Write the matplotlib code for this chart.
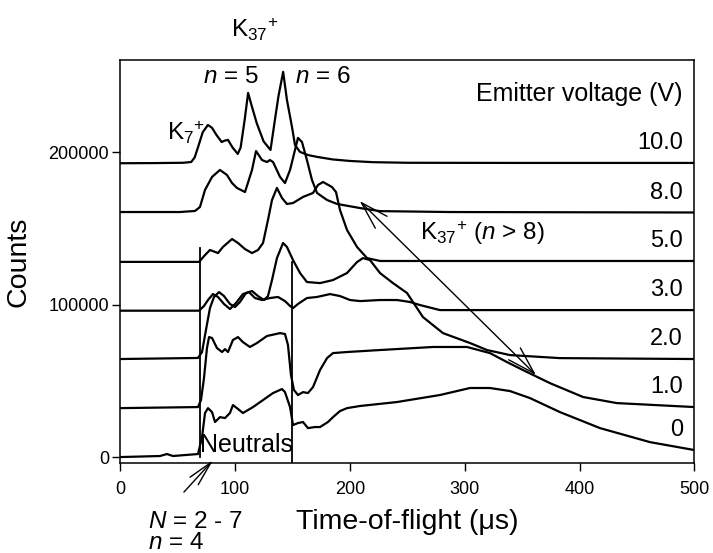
import numpy as np
import matplotlib
matplotlib.use('Agg')
import matplotlib.pyplot as plt
from matplotlib.patches import FancyArrowPatch

# fontes parecidas com Arial
plt.rcParams['font.family'] = ['Liberation Sans', 'DejaVu Sans']
plt.rcParams['mathtext.fontset'] = 'custom'
plt.rcParams['mathtext.rm'] = 'Liberation Sans'
plt.rcParams['mathtext.it'] = 'Liberation Sans:italic'

# ---------------- dados ----------------
voltages = ['0', '1.0', '2.0', '3.0', '5.0', '8.0', '10.0']
offsets = [0, 32000, 64000, 96000, 128000, 160000, 192000]

t_0 = [0, 34.8, 40.9, 46.1, 67.9, 71.4, 74, 76.6, 80.1, 82.7, 87, 91.4, 95.7, 98.3, 101.8, 107,
       115.8, 124.5, 133.2, 141, 143.6, 148, 150.6, 154.9, 159.3, 163.6, 169.7, 174.1, 181, 185.4,
       191.5, 197.6, 208.9, 241.1, 278.5, 304.6, 322, 339.4, 356.8, 382.9, 417.8, 461.3, 500]
c_0 = [0, 700, 2000, 700, 2000, 13100, 28900, 32100, 29500, 23000, 26200, 25600, 28900, 34100,
       32100, 28900, 32800, 37400, 42000, 44600, 42600, 32800, 21000, 22300, 23000, 19000, 19700,
       19700, 23000, 26200, 30200, 32100, 33500, 36100, 40700, 45300, 45300, 43300, 38700, 29500,
       19000, 9800, 4600]

t_1 = [0, 67.9, 70.5, 73.1, 75.7, 77.5, 80.1, 84.4, 88.8, 91.4, 94, 98.3, 102.7, 107, 113.1, 119.2,
       127.9, 139.3, 143.6, 146.2, 148.8, 151.4, 154.9, 159.3, 163.6, 168, 174.1, 180.2, 185.4,
       197.6, 226.3, 272.4, 302, 322, 336.8, 350.7, 374.2, 403, 432.5, 500]
c_1 = [100, 800, 5400, 19800, 39500, 46700, 46100, 39500, 36900, 38800, 36900, 44800, 46700, 43400,
       40200, 42800, 47400, 49300, 48700, 41500, 21800, 12000, 8700, 10600, 10000, 13900, 25100,
       32900, 36200, 36900, 38200, 40200, 40200, 36200, 30300, 25100, 16500, 7400, 3400, 800]

t_2 = [0, 67.9, 71.4, 74.8, 78.3, 81.8, 86.2, 90.5, 95.7, 100.1, 104.4, 109.7, 114.9, 120.1, 125.3,
       128.8, 132.3, 136.6, 141.9, 145.3, 150.6, 156.7, 162.7, 174.1, 185.4, 197.6, 206.3, 211.5,
       217.6, 226.3, 237.6, 249.8, 255, 263.7, 281.1, 304.6, 319.4, 339.4, 382.9, 500]
c_2 = [300, 1000, 4900, 19300, 33700, 41000, 44200, 41600, 36400, 34400, 37700, 43600, 44900, 41600,
       39000, 41600, 52100, 66500, 76400, 73800, 65200, 56700, 50800, 50100, 52100, 56700, 63900,
       66500, 65200, 56700, 50100, 43600, 37700, 27800, 17300, 10800, 6200, 2900, 900, 300]

t_3 = [0, 68.8, 73.1, 76.6, 80.9, 85.3, 90.5, 95.7, 100.9, 107, 112.3, 117.5, 123.6, 130.5, 137.5,
       143.6, 148, 150.6, 154.9, 162.7, 171.5, 182.8, 191.5, 200.2, 208.9, 226.3, 241.1, 252.4,
       261.1, 278.5, 500]
c_3 = [0, 0, 3100, 7000, 10900, 9000, 4400, 1100, 5000, 10900, 12200, 8300, 7000, 8300, 9000, 6300,
       3100, 1700, 4400, 8300, 9000, 10900, 9600, 7000, 6300, 7000, 7000, 5700, 3700, 400, 400]

t_5 = [0, 68.8, 74, 78.3, 85.3, 89.6, 97.5, 102.7, 108.8, 114.9, 120.1, 124.5, 128.8, 132.3, 136.6,
       141, 145.3, 150.6, 159.3, 168, 172.3, 176.7, 184.5, 188, 191.5, 197.6, 206.3, 215, 226.3, 500]
c_5 = [0, 0, 4500, 7800, 5800, 9800, 15000, 12400, 8400, 5800, 7800, 12400, 27500, 40600, 48500,
       41900, 38000, 38600, 42600, 45200, 50400, 52400, 49100, 45800, 34000, 20900, 9800, 2500,
       600, 600]

t_8 = [0, 52, 65.3, 69.6, 74, 80.1, 87, 93.1, 97.5, 101.8, 108.8, 114.9, 118.4, 123.6, 127.9, 130.5,
       133.2, 139.3, 143.6, 148, 152.3, 154.9, 158.4, 162.7, 167.1, 171.5, 180.2, 188.9, 208.9,
       226.3, 287, 500]
c_8 = [700, 700, 1400, 4000, 15200, 23700, 28300, 25000, 19700, 16500, 13800, 28300, 40700, 34800,
       33500, 34800, 33500, 23700, 19700, 28300, 41400, 49300, 46600, 34800, 21700, 13200, 8600,
       6000, 3300, 1300, 700, 400]

t_10 = [0, 30, 55, 62, 65, 68, 72, 76.5, 80, 84, 88.5, 91, 94, 98, 102.5, 105, 108.5, 111.5, 114,
        119, 125, 131, 135, 138, 142, 145.3, 149.7, 152.3, 156.7, 164, 172, 185, 200, 220, 250,
        350, 500]
c_10 = [700, 800, 1000, 1500, 4500, 11400, 21000, 25800, 24000, 19200, 14600, 15500, 16000, 11000,
        6800, 11000, 29100, 46800, 40000, 27000, 15000, 9400, 30000, 45000, 60600, 42200, 24500,
        12700, 8100, 6000, 4800, 3200, 2200, 1400, 1000, 900, 900]

times = [t_0, t_1, t_2, t_3, t_5, t_8, t_10]
counts = [c_0, c_1, c_2, c_3, c_5, c_8, c_10]

# janela de chegada dos neutros (linhas verticais)
neutral_t = [69.2, 150.1]
neutral_top = [137000, 128000]

# ---------------- figura ----------------
fig = plt.figure(figsize=(7.13, 5.53), dpi=100)
ax = fig.add_axes([0.1683, 0.1627, 0.8057, 0.7288])

for t, c, off, v in zip(times, counts, offsets, voltages):
    y = np.array(c) + off
    ax.plot(t, y, color='k', lw=1.6, solid_joinstyle='round')
    # rotulo de tensao acima do fim de cada curva
    ax.text(490, y[-1] + 9000, v, ha='right', va='baseline', fontsize=17)

ax.plot([neutral_t[0]] * 2, [0, neutral_top[0]], color='k', lw=1.3)
ax.plot([neutral_t[1]] * 2, [-4000, neutral_top[1]], color='k', lw=1.3)

ax.set_xlim(0, 500)
ax.set_ylim(-3900, 260400)
ax.set_xticks([0, 100, 200, 300, 400, 500])
ax.set_yticks([0, 100000, 200000])
ax.tick_params(axis='x', direction='out', length=6, width=1, pad=7, labelsize=13)
ax.tick_params(axis='y', direction='out', length=6, width=1, pad=2, labelsize=13)
for s in ax.spines.values():
    s.set_linewidth(1.1)

ax.set_xlabel('Time-of-flight (μs)', fontsize=20.5, labelpad=8)
ax.set_ylabel('Counts', fontsize=20.5, labelpad=12)

# anotacoes
ax.text(490, 233500, 'Emitter voltage (V)', ha='right', va='baseline', fontsize=18)
ax.text(117.5, 275500, r'K$_{37}$$^{+}$', ha='center', va='baseline', fontsize=17.5)
ax.text(72.2, 245300, r'$n$ = 5', ha='left', va='baseline', fontsize=17.5)
ax.text(152.3, 245300, r'$n$ = 6', ha='left', va='baseline', fontsize=17.5)
ax.text(40.9, 208000, r'K$_{7}$$^{+}$', ha='left', va='baseline', fontsize=17.5)
ax.text(261, 142400, r'K$_{37}$$^{+}$ ($n$ > 8)', ha='left', va='baseline', fontsize=17.5)
ax.text(69.6, 3300, 'Neutrals', ha='left', va='baseline', fontsize=18)
ax.text(24.4, -46300, r'$N$ = 2 - 7', ha='left', va='baseline', fontsize=17.5)
ax.text(24.4, -60000, r'$n$ = 4', ha='left', va='baseline', fontsize=17.5)

# seta dupla acompanhando o pico dos clusters grandes
arr = FancyArrowPatch((206.9, 169200), (363.8, 52500),
                      arrowstyle='<->,head_length=20,head_width=6',
                      mutation_scale=1, color='k', lw=1.0)
ax.add_patch(arr)

# seta dos neutros
arr2 = FancyArrowPatch((54, -24300), (82.7, -650),
                       arrowstyle='->,head_length=18,head_width=4',
                       mutation_scale=1, color='k', lw=1.0, clip_on=False)
ax.add_patch(arr2)

fig.savefig('out.png', dpi=100)
